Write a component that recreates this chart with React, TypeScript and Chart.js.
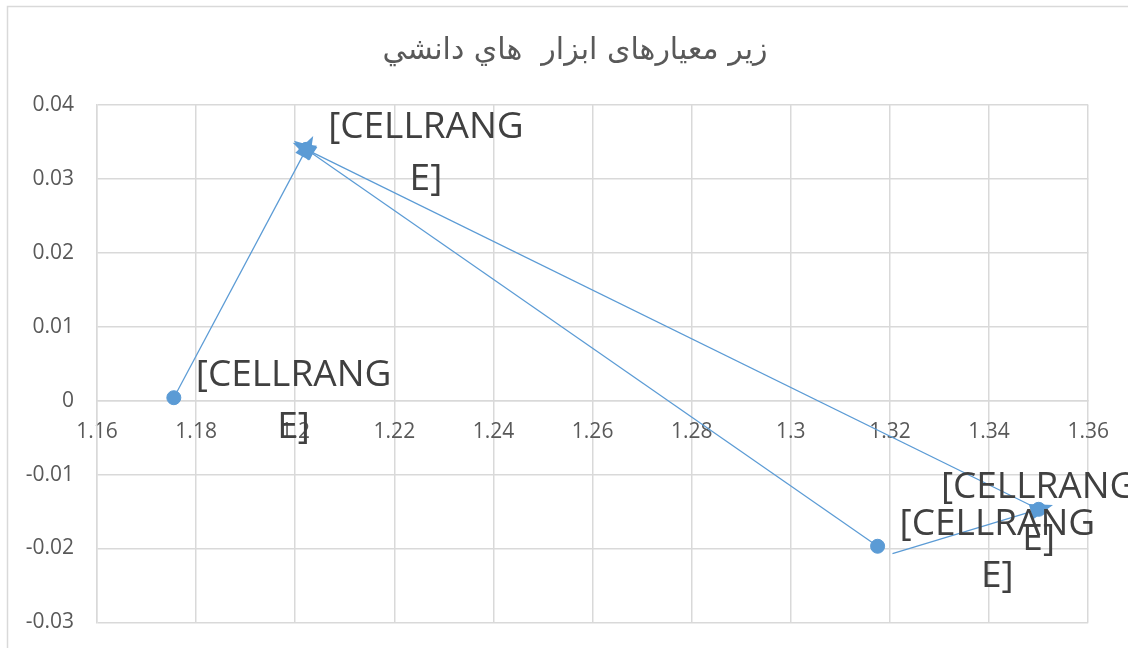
import React, { useEffect, useRef } from "react";
import { Chart, registerables } from "chart.js";

Chart.register(...registerables);

// Chart title and axis ranges
const chartTitle = "زير معيارهای ابزار  هاي دانشي";
const xTicksMin = 1.16;
const xTicksMax = 1.36;
const xTickStep = 0.02;
const yTicksMin = -0.03;
const yTicksMax = 0.04;
const yTickStep = 0.01;

// Plotted points (marker + data label)
const pointX = [1.1755, 1.2022, 1.3175, 1.35];
const pointY = [0.0004, 0.034, -0.0197, -0.0147];
const pointLabel = ["[CELLRANGE]", "[CELLRANGE]", "[CELLRANGE]", "[CELLRANGE]"];

// Connector lines with an arrowhead at the end
const arrowStartX = [1.1755, 1.35, 1.3175, 1.3205];
const arrowStartY = [0.0004, -0.0147, -0.0197, -0.0207];
const arrowEndX = [1.2022, 1.2022, 1.2022, 1.35];
const arrowEndY = [0.034, 0.034, 0.034, -0.0147];

const BLUE = "#5b9bd5";
const GRID = "#d9d9d9";
const TEXT = "#595959";
const LABEL_TEXT = "#404040";
const FONT = "'Open Sans', 'Noto Sans', sans-serif";

// label placement: "right" of the marker, or centred on it
const labelAlign = ["right", "right", "right", "center"];
const LABEL_WRAP = 9;

const CANVAS_W = 1128;
const CANVAS_H = 658;

const fmt = (v: number) => String(parseFloat(Number(v).toFixed(4)));

const frameBorder = {
  id: "frameBorder",
  beforeDraw(chart: any) {
    const { ctx } = chart;
    ctx.save();
    ctx.fillStyle = "#ffffff";
    ctx.fillRect(0, 0, chart.width, chart.height);
    ctx.strokeStyle = GRID;
    ctx.lineWidth = 1.5;
    ctx.strokeRect(7.5, 6.5, chart.width + 50, chart.height + 50);
    ctx.restore();
  },
};

const titleText = {
  id: "titleText",
  afterDraw(chart: any) {
    const { ctx } = chart;
    ctx.save();
    ctx.fillStyle = TEXT;
    ctx.font = "30px 'DejaVu Sans', sans-serif";
    ctx.textAlign = "center";
    ctx.textBaseline = "middle";
    ctx.direction = "rtl";
    ctx.fillText(chartTitle, 575, 51);
    ctx.restore();
  },
};

const arrowHeads = {
  id: "arrowHeads",
  afterDatasetsDraw(chart: any) {
    const { ctx } = chart;
    ctx.save();
    ctx.fillStyle = BLUE;
    chart.data.datasets.forEach((ds: any, i: number) => {
      if (!ds.isArrow) return;
      const meta = chart.getDatasetMeta(i);
      const a = meta.data[0];
      const b = meta.data[1];
      const dx = b.x - a.x;
      const dy = b.y - a.y;
      const len = Math.hypot(dx, dy) || 1;
      const ux = dx / len;
      const uy = dy / len;
      const tipX = b.x + ux * 15;
      const tipY = b.y + uy * 15;
      const baseX = b.x - ux * 8;
      const baseY = b.y - uy * 8;
      ctx.beginPath();
      ctx.moveTo(tipX, tipY);
      ctx.lineTo(baseX - uy * 8, baseY + ux * 8);
      ctx.lineTo(baseX + uy * 8, baseY - ux * 8);
      ctx.closePath();
      ctx.fill();
    });
    ctx.restore();
  },
};

const pointLabels = {
  id: "pointLabels",
  afterDraw(chart: any) {
    const { ctx } = chart;
    const meta = chart.getDatasetMeta(0);
    ctx.save();
    ctx.fillStyle = LABEL_TEXT;
    ctx.font = `37px ${FONT}`;
    ctx.textAlign = "center";
    ctx.textBaseline = "middle";
    meta.data.forEach((pt: any, i: number) => {
      const text = pointLabel[i];
      const lines = [text.slice(0, LABEL_WRAP), text.slice(LABEL_WRAP)];
      const w = ctx.measureText(lines[0]).width;
      const cx = labelAlign[i] === "right" ? pt.x + 22 + w / 2 : pt.x;
      lines.forEach((line, k) => {
        ctx.fillText(line, cx, pt.y - 22 + k * 52);
      });
    });
    ctx.restore();
  },
};

export default function App() {
  const canvasRef = useRef<HTMLCanvasElement | null>(null);

  useEffect(() => {
    const canvas = canvasRef.current;
    if (!canvas) return;

    const datasets: any[] = [
      {
        data: pointX.map((x, i) => ({ x, y: pointY[i] })),
        showLine: false,
        pointRadius: 7,
        pointBorderWidth: 1,
        pointBackgroundColor: BLUE,
        pointBorderColor: BLUE,
      },
      ...arrowStartX.map((x, i) => ({
        isArrow: true,
        data: [
          { x, y: arrowStartY[i] },
          { x: arrowEndX[i], y: arrowEndY[i] },
        ],
        showLine: true,
        borderColor: BLUE,
        borderWidth: 1.25,
        pointRadius: 0,
        fill: false,
      })),
    ];

    const chart = new Chart(canvas, {
      type: "scatter",
      data: { datasets },
      plugins: [frameBorder, arrowHeads, pointLabels, titleText],
      options: {
        animation: false,
        responsive: false,
        devicePixelRatio: 1,
        layout: { padding: { left: 0, top: 105, right: 38, bottom: 26 } },
        plugins: {
          legend: { display: false },
          tooltip: { enabled: false },
          title: { display: false },
        },
        scales: {
          x: {
            type: "linear",
            position: { y: 0 } as any,
            min: xTicksMin,
            max: xTicksMax,
            ticks: {
              stepSize: xTickStep,
              color: TEXT,
              font: { family: FONT, size: 21 },
              padding: 19,
              callback: (v: any) => fmt(v),
            },
            grid: { color: GRID, lineWidth: 1.5, drawTicks: false },
            border: { color: GRID, width: 1.5 },
          },
          y: {
            type: "linear",
            position: "left",
            min: yTicksMin,
            max: yTicksMax,
            afterFit: (s: any) => {
              s.width = 97;
            },
            ticks: {
              stepSize: yTickStep,
              color: TEXT,
              font: { family: FONT, size: 21 },
              padding: 23,
              callback: (v: any) => fmt(v),
            },
            grid: { color: GRID, lineWidth: 1.5, drawTicks: false },
            border: { color: GRID, width: 1.5 },
          },
        },
      },
    } as any);

    return () => chart.destroy();
  }, []);

  return (
    <div
      style={{
        position: "fixed",
        left: 0,
        top: 0,
        width: 1128,
        height: 648,
        overflow: "hidden",
        background: "#fff",
      }}
    >
      <canvas ref={canvasRef} width={CANVAS_W} height={CANVAS_H} style={{ display: "block" }} />
    </div>
  );
}
